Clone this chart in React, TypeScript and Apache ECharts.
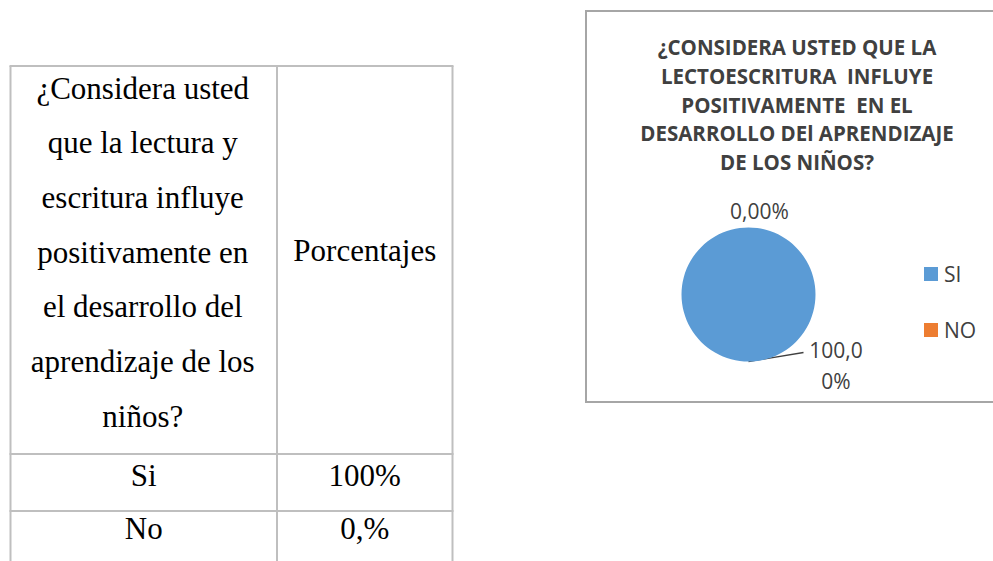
import React, { useEffect, useRef } from "react";
import * as echarts from "echarts";

// ---- data ----
const categories = ["SI", "NO"];
const values = [100, 0];
const seriesColors = ["#5b9bd5", "#ed7d31"];

const titleLines = [
  "¿CONSIDERA USTED QUE LA",
  "LECTOESCRITURA  INFLUYE",
  "POSITIVAMENTE  EN EL",
  "DESARROLLO DEl APRENDIZAJE",
  "DE LOS NIÑOS?",
];

const tableHeaderLines = [
  "¿Considera usted",
  "que la lectura y",
  "escritura influye",
  "positivamente en",
  "el desarrollo del",
  "aprendizaje de los",
  "niños?",
];
const tableHeaderRight = "Porcentajes";
const tableRowLabels = ["Si", "No"];
const tableRowValues = ["100%", "0,%"];

const fmtPct = (p: number) => p.toFixed(2).replace(".", ",") + "%";

export default function App() {
  const ref = useRef<HTMLDivElement>(null);

  useEffect(() => {
    if (!ref.current) return;
    const chart = echarts.init(ref.current, null, { renderer: "svg" });

    const lineColor = "#bfbfbf";
    const serif = "Liberation Serif, Times New Roman, serif";
    const sans = "Open Sans, Noto Sans, sans-serif";

    // table geometry
    const tx0 = 10.5, tx1 = 277, tx2 = 452.5;
    const ty0 = 66, tyRow1 = 454, tyRow2 = 511, tyEnd = 570;
    const col1C = (tx0 + tx1) / 2;
    const col2C = (tx1 + tx2) / 2;

    const graphics: any[] = [];
    const ln = (x1: number, y1: number, x2: number, y2: number) => ({
      type: "line",
      silent: true,
      shape: { x1, y1, x2, y2 },
      style: { stroke: lineColor, lineWidth: 2 },
    });
    graphics.push(ln(tx0, ty0, tx0, tyEnd));
    graphics.push(ln(tx1, ty0, tx1, tyEnd));
    graphics.push(ln(tx2, ty0, tx2, tyEnd));
    graphics.push(ln(tx0 - 1, ty0, tx2 + 1, ty0));
    graphics.push(ln(tx0 - 1, tyRow1, tx2 + 1, tyRow1));
    graphics.push(ln(tx0 - 1, tyRow2, tx2 + 1, tyRow2));

    const cellText = (t: string, x: number, y: number) => ({
      type: "text",
      silent: true,
      x,
      y,
      style: {
        text: t,
        fill: "#000",
        fontFamily: serif,
        fontSize: 31,
        align: "center",
        verticalAlign: "middle",
      },
    });

    tableHeaderLines.forEach((t, i) => {
      graphics.push(cellText(t, col1C - 1, 88 + i * 54.7));
    });
    graphics.push(cellText(tableHeaderRight, col2C, 250));
    const rowYs = [475, 528];
    tableRowLabels.forEach((t, i) => {
      graphics.push(cellText(t, col1C, rowYs[i]));
      graphics.push(cellText(tableRowValues[i], col2C, rowYs[i]));
    });

    // chart frame
    graphics.push({
      type: "rect",
      silent: true,
      z: -1,
      shape: { x: 586, y: 11, width: 420, height: 391 },
      style: { fill: "#fff", stroke: "#a6a6a6", lineWidth: 2 },
    });
    // chart title
    graphics.push({
      type: "text",
      silent: true,
      x: 797,
      y: 104.5,
      style: {
        text: titleLines.join("\n"),
        fill: "#404040",
        fontFamily: sans,
        fontSize: 20.5,
        fontWeight: "bold",
        lineHeight: 28.6,
        align: "center",
        verticalAlign: "middle",
      },
    });

    const option: any = {
      animation: false,
      backgroundColor: "#ffffff",
      color: seriesColors,
      graphic: { elements: graphics },
      legend: {
        orient: "vertical",
        left: 924,
        top: 263.5,
        padding: 0,
        itemWidth: 14,
        itemHeight: 14,
        itemGap: 35,
        icon: "rect",
        selectedMode: false,
        data: categories,
        textStyle: {
          fontFamily: sans,
          fontSize: 21,
          lineHeight: 14,
          color: "#404040",
          padding: [0, 0, 0, 1],
        },
      },
      series: [
        {
          type: "pie",
          center: [748.5, 294.5],
          radius: 67,
          startAngle: 90,
          clockwise: true,
          silent: true,
          avoidLabelOverlap: false,
          itemStyle: { borderWidth: 0 },
          emphasis: { disabled: true },
          label: {
            show: true,
            position: "outside",
            color: "#404040",
            fontFamily: sans,
            fontSize: 21,
            lineHeight: 31,
            align: "center",
            formatter: (p: any) => fmtPct(p.percent),
          },
          labelLine: {
            show: true,
            length: 10,
            length2: 10,
            lineStyle: { color: "#404040", width: 1.3 },
          },
          labelLayout: (params: any) => {
            const pts = params.labelLinePoints;
            if (!pts) return {};
            const p0 = pts[0];
            if (params.dataIndex === 0) {
              return {
                x: p0[0] + 87.5,
                y: p0[1] - 27.5,
                align: "center",
                verticalAlign: "top",
                labelLinePoints: [
                  [p0[0], p0[1]],
                  [p0[0] + 55, p0[1] - 9],
                  [p0[0] + 55, p0[1] - 9],
                ],
              };
            }
            return {
              x: p0[0] + 11,
              y: p0[1] - 17,
              align: "center",
              verticalAlign: "middle",
            };
          },
          data: categories.map((name, i) => ({
            name,
            value: values[i],
            label: i === 0 ? { width: 59, overflow: "breakAll" } : {},
            labelLine: { show: i === 0 },
          })),
        },
      ],
    };

    chart.setOption(option);
    return () => chart.dispose();
  }, []);

  return (
    <div
      ref={ref}
      style={{ position: "fixed", left: 0, top: 0, width: 993, height: 561, background: "#fff" }}
    />
  );
}
